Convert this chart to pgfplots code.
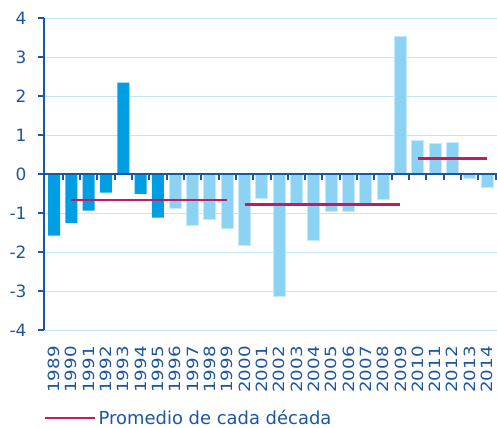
\documentclass[border=0pt]{standalone}
\usepackage{pgfplots}
\pgfplotsset{compat=1.18}
\usepackage{fontspec}
\setmainfont{DejaVu Sans}

\definecolor{axisblue}{HTML}{1B56A6}
\definecolor{textblue}{HTML}{1E55A0}
\definecolor{darkbar}{HTML}{009FE3}
\definecolor{lightbar}{HTML}{8CD2F2}
\definecolor{lightedge}{HTML}{C6EAF9}
\definecolor{gridcyan}{HTML}{C2E8F8}
\definecolor{avgred}{HTML}{C8185E}

\pgfplotsset{
  base/.style={
    scale only axis,
    width=453bp, height=312bp,
    at={(44bp,98bp)}, anchor=south west,
    xmin=-0.58, xmax=25.58,
    ymin=-4, ymax=4,
  },
}

\begin{document}
\begin{tikzpicture}
\path[use as bounding box] (0,0) rectangle (497bp,428bp);

\begin{axis}[
  base,
  axis lines*=left,
  x axis line style={draw=none},
  y axis line style={axisblue, line width=2bp, -},
  xtick={0,...,25},
  xticklabels={1989,1990,1991,1992,1993,1994,1995,1996,1997,1998,1999,2000,2001,2002,2003,2004,2005,2006,2007,2008,2009,2010,2011,2012,2013,2014},
  xtick style={draw=none},
  xticklabel style={yshift=-10bp, rotate=90, xscale=1.18, anchor=east, text=textblue, font=\fontsize{15.5}{15.5}\selectfont, inner sep=0pt},
  ytick={-4,...,4},
  ytick style={axisblue, line width=1.6bp},
  tick align=outside,
  major tick length=6bp,
  yticklabel style={text=textblue, font=\fontsize{17}{17}\selectfont, /pgf/number format/assume math mode=true, xshift=-8bp},
  ymajorgrids,
  grid style={gridcyan, line width=1bp},
  ybar, bar width=12bp, bar shift=0pt,
  legend style={draw=none, fill=none, at={(axis description cs:0,-0.282)}, anchor=west,
    font=\fontsize{18}{18}\selectfont, text=textblue, inner sep=0pt},
  legend image code/.code={\draw[#1, line width=2.5bp] (0bp,0bp) -- (50bp,0bp);},
]
% 1989-1995
\addplot[fill=darkbar, draw=none, forget plot] coordinates {
  (0,-1.58) (1,-1.25) (2,-0.94) (3,-0.48) (4,2.34) (5,-0.51) (6,-1.12)
};
% 1996-2014
\addplot[fill=lightbar, draw=lightedge, line width=0.8bp, forget plot] coordinates {
  (7,-0.87) (8,-1.32) (9,-1.16) (10,-1.39) (11,-1.82) (12,-0.63) (13,-3.13)
  (14,-0.76) (15,-1.71) (16,-0.95) (17,-0.97) (18,-0.77) (19,-0.64) (20,3.54)
  (21,0.86) (22,0.79) (23,0.80) (24,-0.11) (25,-0.35)
};
% decade averages
\addplot[sharp plot, avgred, line width=2.5bp, mark=none] coordinates {(1,-0.67) (10,-0.67)};
\addlegendentry{Promedio de cada década}
\addplot[sharp plot, avgred, line width=2.5bp, mark=none, forget plot] coordinates {(11,-0.784) (20,-0.784)};
\addplot[sharp plot, avgred, line width=2.5bp, mark=none, forget plot] coordinates {(21,0.398) (25,0.398)};
\end{axis}

% zero line with boundary ticks
\begin{axis}[
  base,
  axis x line=middle,
  axis y line=none,
  x axis line style={axisblue, line width=2.5bp, -},
  xtick={0.5,1.5,...,25.5},
  xticklabels={},
  xtick style={axisblue, line width=2bp},
  major tick length=6bp,
  tick align=outside,
]
\end{axis}
\end{tikzpicture}
\end{document}
